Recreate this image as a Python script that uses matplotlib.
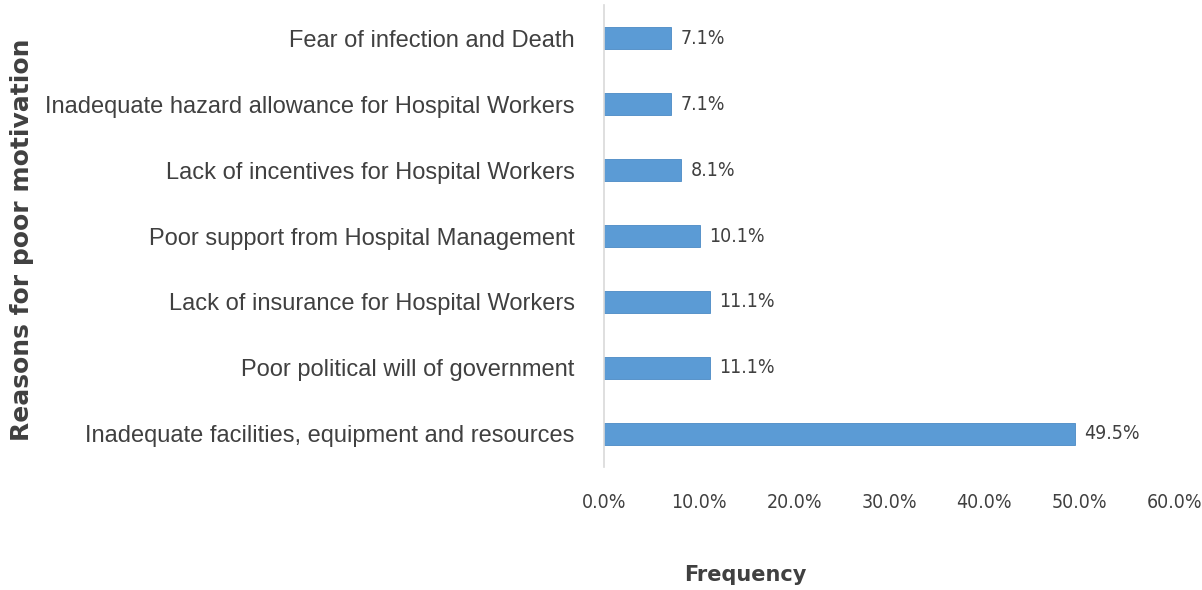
import matplotlib.pyplot as plt
from matplotlib.ticker import FuncFormatter

reasons = [
    'Inadequate facilities, equipment and resources',
    'Poor political will of government',
    'Lack of insurance for Hospital Workers',
    'Poor support from Hospital Management',
    'Lack of incentives for Hospital Workers',
    'Inadequate hazard allowance for Hospital Workers',
    'Fear of infection and Death',
]
freq = [49.5, 11.1, 11.1, 10.1, 8.1, 7.1, 7.1]
xticks = [0, 10, 20, 30, 40, 50, 60]

bar_col = '#5b9bd5'
txt_col = '#404040'

fig = plt.figure(figsize=(12.02, 5.90), dpi=100)
ax = fig.add_axes([0.5025, 0.2085, 0.4745, 0.783])

ypos = range(len(reasons))
ax.barh(ypos, freq, height=0.32, color=bar_col, edgecolor='#4a8ac4', linewidth=0.6)
for y, v in zip(ypos, freq):
    ax.text(v + 1.0, y, '%.1f%%' % v, va='center', ha='left',
            fontsize=14, color=txt_col, family='DejaVu Sans', stretch='condensed')

ax.set_ylim(-0.5, len(reasons) - 0.5)
ax.set_xlim(0, 60)
ax.set_yticks(list(ypos))
ax.set_yticklabels(reasons, fontsize=17, color=txt_col, family='Liberation Sans')
ax.set_xticks(xticks)
ax.xaxis.set_major_formatter(FuncFormatter(lambda v, p: '%.1f%%' % v))
for lab in ax.get_xticklabels():
    lab.set_family('DejaVu Sans')
    lab.set_stretch('condensed')
    lab.set_fontsize(14)
    lab.set_color(txt_col)
ax.tick_params(axis='y', length=0, pad=21)
ax.tick_params(axis='x', length=0, pad=19)

for s in ['top', 'right', 'bottom']:
    ax.spines[s].set_visible(False)
ax.spines['left'].set_color('#d9d9d9')
ax.spines['left'].set_linewidth(1.2)

fig.text(0.62, 0.015, 'Frequency', fontsize=15, fontweight='bold', color=txt_col, ha='center')
fig.text(0.018, 0.593, 'Reasons for poor motivation', fontsize=18, fontweight='bold',
         color=txt_col, rotation=90, va='center', ha='center')

fig.savefig('out.png', dpi=100)
